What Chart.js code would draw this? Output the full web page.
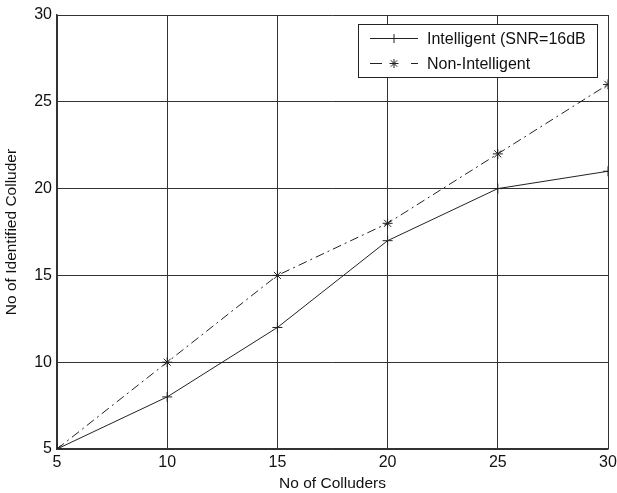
<!DOCTYPE html>
<html>
<head>
<meta charset="utf-8">
<script src="https://cdn.jsdelivr.net/npm/chart.js@4.4.1/dist/chart.umd.min.js"></script>
<style>
  html, body { margin: 0; padding: 0; background: #fff; }
  #wrap { width: 617px; height: 493px; position: relative; }
</style>
</head>
<body>
<div id="wrap"><canvas id="chart"></canvas></div>
<script>
// data
const colluders = [5, 10, 15, 20, 25, 30];
const intelligent = [5, 8, 12, 17, 20, 21];
const nonIntelligent = [5, 10, 15, 18, 22, 26];
const tickValues = [5, 10, 15, 20, 25, 30];

const FONT = 'Liberation Sans, Arial, Helvetica, sans-serif';
const DASHDOT = [9, 4, 2, 4];

// MATLAB-like boxed legend in the top right corner
const boxLegend = {
    id: 'boxLegend',
    afterDraw(chart) {
        const ctx = chart.ctx;
        const area = chart.chartArea;
        const x = area.right - 250, y = area.top + 9, w = 239, h = 53;
        ctx.save();
        ctx.fillStyle = '#fff';
        ctx.fillRect(x, y, w, h);
        ctx.strokeStyle = '#222';
        ctx.lineWidth = 1;
        ctx.strokeRect(x + 0.5, y + 0.5, w, h);

        const items = [
            { label: 'Intelligent (SNR=16dB', segs: [[12, 60]], marker: 'cross' },
            { label: 'Non-Intelligent', segs: [[12, 24], [53, 60]], marker: 'star' }
        ];
        items.forEach((it, i) => {
            const cy = y + 14.5 + i * 25;
            ctx.strokeStyle = '#222';
            ctx.lineWidth = 1;
            it.segs.forEach(s => {
                ctx.beginPath();
                ctx.moveTo(x + s[0], cy);
                ctx.lineTo(x + s[1], cy);
                ctx.stroke();
            });
            Chart.helpers.drawPoint(ctx, { pointStyle: it.marker, radius: 4.5, borderWidth: 1 }, x + 36, cy);
            ctx.fillStyle = '#111';
            ctx.font = '16px ' + FONT;
            ctx.textBaseline = 'middle';
            ctx.fillText(it.label, x + 69, cy + 1);
        });
        ctx.restore();
    }
};

new Chart(document.getElementById('chart'), {
    type: 'line',
    data: {
        datasets: [
            {
                label: 'Intelligent (SNR=16dB',
                data: colluders.map((c, i) => ({ x: c, y: intelligent[i] })),
                borderColor: '#222',
                backgroundColor: '#222',
                borderWidth: 1,
                pointStyle: 'cross',
                pointRadius: 5,
                pointBorderWidth: 1,
                tension: 0
            },
            {
                label: 'Non-Intelligent',
                data: colluders.map((c, i) => ({ x: c, y: nonIntelligent[i] })),
                borderColor: '#222',
                backgroundColor: '#222',
                borderWidth: 1,
                borderDash: DASHDOT,
                pointStyle: 'star',
                pointRadius: 5,
                pointBorderWidth: 1,
                tension: 0
            }
        ]
    },
    options: {
        responsive: true,
        maintainAspectRatio: false,
        animation: false,
        layout: { padding: { left: 0, right: 9, top: 15, bottom: 0 } },
        plugins: {
            legend: { display: false },
            tooltip: { enabled: false }
        },
        scales: {
            x: {
                type: 'linear',
                min: 5,
                max: 30,
                afterBuildTicks: axis => { axis.ticks = tickValues.map(v => ({ value: v })); },
                afterFit: axis => {
                    axis.height = 44;
                    axis.paddingLeft = 0;
                    axis.paddingRight = 0;
                },
                grid: { color: '#333', lineWidth: 1, drawTicks: false },
                border: { color: '#333', width: 1.5 },
                ticks: { color: '#111', font: { family: FONT, size: 16 }, padding: 4, maxRotation: 0 },
                title: {
                    display: true,
                    text: 'No of Colluders',
                    color: '#111',
                    font: { family: FONT, size: 15.5 },
                    padding: { top: 0, bottom: 0 }
                }
            },
            y: {
                type: 'linear',
                min: 5,
                max: 30,
                afterBuildTicks: axis => { axis.ticks = tickValues.map(v => ({ value: v })); },
                afterFit: axis => {
                    axis.width = 57;
                    axis.paddingTop = 0;
                    axis.paddingBottom = 0;
                },
                grid: { color: '#333', lineWidth: 1, drawTicks: false },
                border: { color: '#333', width: 1.5 },
                ticks: { color: '#111', font: { family: FONT, size: 16 }, padding: 5 },
                title: {
                    display: true,
                    text: 'No of Identified Colluder',
                    color: '#111',
                    font: { family: FONT, size: 15.5 },
                    padding: { top: 2, bottom: 4 }
                }
            }
        }
    },
    plugins: [boxLegend]
});
</script>
</body>
</html>
